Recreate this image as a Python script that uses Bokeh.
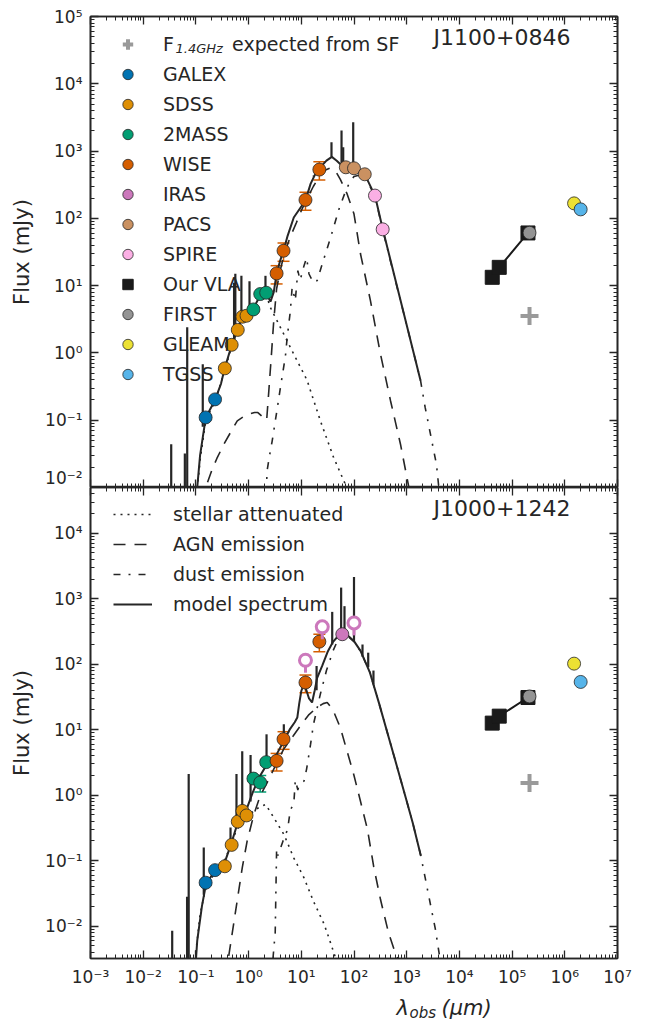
import numpy as np
from bokeh.plotting import figure
from bokeh.layouts import column
from bokeh.models import (ColumnDataSource, LogAxis, FixedTicker, CustomJSTickFormatter,
                          CustomLabelingPolicy, Label, Legend, LegendItem, Whisker, TeeHead,
                          Range1d)
from bokeh.embed import file_html
from bokeh.resources import INLINE

FONT = "DejaVu Sans"
INK = "#262626"

# seaborn colorblind palette per survey
C_GALEX = "#0173B2"
C_SDSS = "#DE8F05"
C_2MASS = "#029E73"
C_WISE = "#D55E00"
C_IRAS = "#CC78BC"
C_PACS = "#CA9161"
C_SPIRE = "#FBAFE4"
C_VLA = "#1a1a1a"
C_FIRST = "#949494"
C_GLEAM = "#ECE133"
C_TGSS = "#56B4E9"
C_SF = "#9a9a9a"

# ================= Panel 1 : J1100+0846 =================
p1_galex_wl = [0.153, 0.231]
p1_galex_f = [0.11, 0.204]
p1_galex_err = [0.008, 0.012]
p1_sdss_wl = [0.354, 0.477, 0.623, 0.763, 0.913]
p1_sdss_f = [0.59, 1.32, 2.2, 3.45, 3.57]
p1_sdss_err = [0.04, 0.05, 0.08, 0.1, 0.2]
p1_2mass_wl = [1.235, 1.662, 2.159]
p1_2mass_f = [4.43, 7.5, 7.85]
p1_2mass_err = [0.3, 0.5, 0.6]
p1_wise_wl = [3.4, 4.6, 12.0, 22.0]
p1_wise_f = [15.2, 33.0, 188.0, 531.0]
p1_wise_err = [4.6, 10.0, 56.0, 160.0]
p1_pacs_wl = [70.0, 100.0, 160.0]
p1_pacs_f = [574.0, 555.0, 452.0]
p1_pacs_err = [20.0, 20.0, 20.0]
p1_spire_wl = [250.0, 350.0]
p1_spire_f = [218.0, 68.7]
p1_spire_err = [8.0, 8.0]
p1_vla_wl = [42000.0, 57000.0, 200000.0]
p1_vla_f = [13.3, 18.7, 60.7]
p1_first_wl = [214000.0]
p1_first_f = [61.0]
p1_gleam_wl = [1.5e6]
p1_gleam_f = [167.0]
p1_tgss_wl = [2.0e6]
p1_tgss_f = [136.0]
p1_sf_wl = [214000.0]
p1_sf_f = [3.54]

p1_tot_wl = [0.106, 0.12, 0.154, 0.231, 0.3, 0.354, 0.477, 0.62, 0.76, 0.91, 1.24, 1.66, 2.16,
             2.6, 3.0, 3.4, 4.0, 4.6, 5.5, 7.2, 9.7, 12, 15, 18, 23, 30, 38, 47, 60, 70, 100,
             160, 250, 350, 1830]
p1_tot_f = [0.01, 0.03, 0.11, 0.2, 0.35, 0.6, 1.3, 2.2, 3.4, 3.7, 4.6, 7.2, 7.7,
            5.8, 8.0, 15, 24, 33, 55, 103, 145, 185, 325, 440, 575, 720, 820, 720, 600, 570, 550,
            450, 218, 70, 0.39]
p1_st_wl = [0.1, 0.12, 0.154, 0.231, 0.354, 0.477, 0.62, 0.76, 0.91, 1.24, 1.66, 2.2, 2.6, 4.0,
            7.2, 12.9, 23, 41, 64, 75]
p1_st_f = [0.006, 0.025, 0.1, 0.19, 0.55, 1.25, 2.1, 3.2, 3.5, 4.3, 6.6, 7.0, 4.7, 2.4,
           0.96, 0.39, 0.098, 0.028, 0.0126, 0.0095]
p1_agn_wl = [0.13, 0.16, 0.2, 0.25, 0.34, 0.45, 0.61, 0.9, 1.3, 1.5, 1.9, 2.2, 2.4, 2.7, 3.0,
             3.4, 4.0, 4.6, 6.0, 8.0, 10, 13, 17, 22, 28, 35, 45, 55, 74, 100, 133, 205, 318,
             493, 762, 1100]
p1_agn_f = [0.006, 0.011, 0.018, 0.027, 0.044, 0.065, 0.098, 0.12, 0.13, 0.13, 0.11, 0.1, 0.25,
            0.9, 3.0, 9.0, 17, 27, 50, 85, 130, 200, 300, 420, 520, 560, 500, 380, 231, 116,
            29.5, 6.0, 0.96, 0.195, 0.044, 0.01]
p1_dust_wl = [2.15, 2.25, 2.5, 2.8, 3.5, 4.0, 5.0, 5.4, 6.2, 6.7, 7.7, 8.6, 9.5, 11.3, 12.6, 14,
              17, 20, 25, 36, 52, 70, 83, 100, 130, 160, 250, 350, 500, 1000, 1830, 2240,
              3670, 4070]
p1_dust_f = [0.008, 0.018, 0.03, 0.049, 0.15, 0.3, 0.9, 1.7, 4.2, 9.4, 6.0, 16.7, 12, 20, 26,
             14.9, 11, 11.9, 21, 52, 138, 260, 344, 420, 440, 430, 212, 68, 22, 2.6, 0.39,
             0.155, 0.022, 0.01]
p1_line_wl = [0.034, 0.0617, 0.0684, 0.135, 0.53, 0.56, 0.73, 1.04, 2.09, 17.2, 37.4, 58, 62.4, 96.6]
p1_line_top = [0.044, 0.032, 2.4, 0.68, 11.0, 15.0, 14.0, 11.6, 14.0, 433, 1350, 2020, 1140, 2680]
p1_line_base = [0.001, 0.001, 0.001, 0.08, 1.5, 1.8, 3.3, 4.0, 7.6, 420, 820, 610, 600, 550]

# ================= Panel 2 : J1000+1242 =================
p2_galex_wl = [0.153, 0.231]
p2_galex_f = [0.046, 0.0716]
p2_galex_err = [0.004, 0.005]
p2_sdss_wl = [0.354, 0.477, 0.623, 0.763, 0.913]
p2_sdss_f = [0.082, 0.174, 0.395, 0.575, 0.49]
p2_sdss_err = [0.008, 0.01, 0.02, 0.03, 0.03]
p2_2mass_wl = [1.235, 1.662, 2.159]
p2_2mass_f = [1.79, 1.56, 3.19]
p2_2mass_err = [0.15, 0.44, 0.3]
p2_wise_wl = [3.4, 4.6, 12.0, 22.0]
p2_wise_f = [3.34, 7.16, 52.5, 221.0]
p2_wise_err = [1.0, 2.15, 15.8, 66.0]
p2_iras_wl = [60.0]
p2_iras_f = [287.0]
p2_irasul_wl = [12.0, 25.0, 100.0]
p2_irasul_f = [115.0, 372.0, 427.0]
p2_vla_wl = [42000.0, 57000.0, 200000.0]
p2_vla_f = [12.6, 16.1, 31.0]
p2_first_wl = [214000.0]
p2_first_f = [32.2]
p2_gleam_wl = [1.5e6]
p2_gleam_f = [102.0]
p2_tgss_wl = [2.0e6]
p2_tgss_f = [53.6]
p2_sf_wl = [214000.0]
p2_sf_f = [1.53]

p2_tot_wl = [0.1, 0.106, 0.13, 0.154, 0.2, 0.231, 0.3, 0.354, 0.477, 0.62, 0.76, 0.91, 1.2, 1.6,
             2.2, 2.7, 3.4, 4.6, 6.0, 7.5, 8.4, 9.1, 10, 11, 12.5, 14, 16, 18, 20, 25, 32, 40,
             50, 60, 80, 100, 133, 200, 300, 430, 600, 900, 1300, 1850]
p2_tot_f = [0.003, 0.006, 0.02, 0.042, 0.06, 0.07, 0.08, 0.095, 0.19, 0.38, 0.52, 0.6, 1.1, 1.9,
            2.9, 3.5, 4.2, 6.6, 10, 13, 15.3, 24.5, 39, 48, 40, 30, 26, 40, 62, 95, 158, 220,
            270, 290, 265, 225, 160, 75, 25, 9, 3.5, 1.1, 0.38, 0.12]
p2_st_wl = [0.1, 0.12, 0.15, 0.2, 0.3, 0.4, 0.5, 0.65, 0.8, 1.0, 1.3, 1.6, 2.1, 2.6, 3.3, 4.7,
            7.2, 11.2, 17, 26.7, 33, 45]
p2_st_f = [0.004, 0.015, 0.035, 0.055, 0.08, 0.13, 0.22, 0.33, 0.42, 0.5, 0.58, 0.66, 0.72,
           0.55, 0.4, 0.25, 0.11, 0.055, 0.024, 0.011, 0.0068, 0.0032]
p2_agn_wl = [0.42, 0.61, 0.76, 0.94, 1.26, 1.68, 2.2, 3.0, 4.6, 7.0, 10, 14, 20, 26, 31, 40,
             55, 75, 100, 132, 180, 237, 320, 450, 600, 700]
p2_agn_f = [0.0035, 0.025, 0.079, 0.2, 0.51, 1.0, 1.5, 2.5, 5.0, 8.0, 12, 17, 22, 25, 26, 20,
            10.7, 4.5, 2.0, 0.82, 0.3, 0.08, 0.025, 0.008, 0.004, 0.003]
p2_dust_wl = [2.9, 3.2, 3.4, 3.6, 4.5, 5.5, 6.2, 7.2, 7.7, 8.6, 9.0, 11.3, 12.6, 15, 17, 23, 30,
              40, 50, 60, 80, 100, 133, 200, 300, 430, 600, 900, 1300, 1850, 2500, 3500, 4200]
p2_dust_f = [0.0032, 0.008, 0.15, 0.12, 0.2, 0.3, 0.6, 0.73, 1.7, 1.2, 1.4, 1.65, 2.5, 6.0, 12,
             35, 80, 160, 240, 275, 260, 222, 158, 75, 25, 9, 3.5, 1.1, 0.38, 0.12, 0.035,
             0.009, 0.0035]
p2_line_wl = [0.0355, 0.068, 0.073, 0.141, 0.454, 0.589, 0.757, 1.09, 2.19, 4.66, 19.5, 38.6,
              57, 66, 100, 145, 186, 234]
p2_line_top = [0.0085, 0.028, 2.1, 0.158, 0.32, 2.1, 4.7, 4.1, 8.5, 12.1, 94, 630, 1480, 770,
               2150, 200, 150, 80]
p2_line_base = [0.001, 0.001, 0.001, 0.03, 0.17, 0.35, 0.52, 0.8, 2.9, 6.6, 40, 200, 285, 285,
                225, 130, 90, 50]

X_MAJOR = [10.0 ** k for k in range(-3, 8)]
X_MINOR = [m * 10.0 ** k for k in range(-3, 7) for m in range(2, 10)]
Y_MAJOR = [10.0 ** k for k in range(-3, 6)]
Y_MINOR = [m * 10.0 ** k for k in range(-3, 5) for m in range(2, 10)]

SUP_JS = r"""
const sup = {"-": "\u207b", "0": "\u2070", "1": "\u00b9", "2": "\u00b2", "3": "\u00b3",
             "4": "\u2074", "5": "\u2075", "6": "\u2076", "7": "\u2077", "8": "\u2078", "9": "\u2079"};
const e = Math.round(Math.log10(tick));
return "10" + String(e).split("").map(c => sup[c]).join("");
"""

NO_LABELS = "return new Set()"

FW, FH = 527, 471


def style_axis(ax, major, minor, labels):
    ax.ticker = FixedTicker(ticks=major, minor_ticks=minor)
    ax.formatter = CustomJSTickFormatter(code=SUP_JS)
    ax.major_tick_in = 8
    ax.major_tick_out = 0
    ax.minor_tick_in = 4
    ax.minor_tick_out = 0
    ax.major_tick_line_color = INK
    ax.minor_tick_line_color = INK
    ax.major_tick_line_width = 1.3
    ax.minor_tick_line_width = 1
    ax.axis_line_color = INK
    ax.axis_line_width = 1.6
    if labels:
        ax.major_label_text_font = FONT
        ax.major_label_text_font_size = "17px"
        ax.major_label_text_color = INK
        ax.major_label_standoff = 8
    else:
        ax.major_label_policy = CustomLabelingPolicy(code=NO_LABELS)
        ax.major_label_text_font_size = "0px"
        ax.major_label_standoff = 0


def make_fig(ylo, yhi, bottom_labels, top_border, bottom_border):
    p = figure(x_axis_type="log", y_axis_type="log",
               x_range=Range1d(1e-3, 1e7), y_range=Range1d(ylo, yhi),
               frame_width=FW, frame_height=FH, output_backend="svg", toolbar_location=None,
               min_border_left=90, min_border_right=20, min_border_top=top_border,
               min_border_bottom=bottom_border)
    p.grid.visible = False
    p.outline_line_color = INK
    p.outline_line_width = 1.6
    p.background_fill_color = "white"
    style_axis(p.xaxis[0], X_MAJOR, X_MINOR, bottom_labels)
    style_axis(p.yaxis[0], Y_MAJOR, Y_MINOR, True)
    p.yaxis[0].axis_label = "Flux (mJy)"
    p.yaxis[0].axis_label_text_font = FONT
    p.yaxis[0].axis_label_text_font_size = "21px"
    p.yaxis[0].axis_label_text_font_style = "normal"
    p.yaxis[0].axis_label_text_color = INK
    p.yaxis[0].axis_label_standoff = 8
    top = LogAxis()
    style_axis(top, X_MAJOR, X_MINOR, False)
    p.add_layout(top, "above")
    right = LogAxis()
    style_axis(right, Y_MAJOR, Y_MINOR, False)
    p.add_layout(right, "right")
    return p


def add_models(p, tot_wl, tot_f, st_wl, st_f, agn_wl, agn_f, dust_wl, dust_f,
               line_wl, line_top, line_base):
    r_st = p.line(st_wl, st_f, line_color=INK, line_width=1.6, line_dash="2 5")
    r_agn = p.line(agn_wl, agn_f, line_color=INK, line_width=1.6, line_dash="12 9")
    r_dust = p.line(dust_wl, dust_f, line_color=INK, line_width=1.6, line_dash="7 8 2 8")
    r_tot = p.line(tot_wl, tot_f, line_color=INK, line_width=2)
    p.segment(x0=line_wl, y0=line_base, x1=line_wl, y1=line_top, line_color=INK, line_width=2.2)
    return r_st, r_agn, r_dust, r_tot


def add_points(p, wl, f, err, color, marker="circle", size=13):
    src = ColumnDataSource(dict(x=wl, y=f))
    if err is not None:
        src.data["lo"] = [a - b for a, b in zip(f, err)]
        src.data["hi"] = [a + b for a, b in zip(f, err)]
        w = Whisker(source=src, base="x", upper="hi", lower="lo", dimension="height",
                    line_color=color, line_width=1.5,
                    upper_head=TeeHead(size=12, line_color=color, line_width=1.5),
                    lower_head=TeeHead(size=12, line_color=color, line_width=1.5))
        p.add_layout(w)
    return p.scatter("x", "y", source=src, marker=marker, size=size, fill_color=color,
                     line_color=INK, line_width=0.8)


def add_radio(p, vla_wl, vla_f, first_wl, first_f, gleam_wl, gleam_f, tgss_wl, tgss_f, sf_wl, sf_f):
    p.line(vla_wl, vla_f, line_color=C_VLA, line_width=2)
    r_vla = p.scatter(vla_wl, vla_f, marker="square", size=14, fill_color=C_VLA, line_color=C_VLA)
    r_first = add_points(p, first_wl, first_f, None, C_FIRST)
    r_gleam = add_points(p, gleam_wl, gleam_f, None, C_GLEAM)
    r_tgss = add_points(p, tgss_wl, tgss_f, None, C_TGSS)
    r_sf = p.scatter(sf_wl, sf_f, marker="cross", size=18, line_color=C_SF, line_width=4)
    return r_vla, r_first, r_gleam, r_tgss, r_sf


def add_text(p, x, y, text, size, style="normal"):
    p.add_layout(Label(x=x, y=y, x_units="screen", y_units="screen", text=text,
                       text_font=FONT, text_font_size=size, text_font_style=style,
                       text_color=INK, text_baseline="middle", text_align="left"))


# ---------------- top panel ----------------
p1 = make_fig(1e-2, 1e5, False, 16, 0)
add_models(p1, p1_tot_wl, p1_tot_f, p1_st_wl, p1_st_f, p1_agn_wl, p1_agn_f,
           p1_dust_wl, p1_dust_f, p1_line_wl, p1_line_top, p1_line_base)
r_galex = add_points(p1, p1_galex_wl, p1_galex_f, p1_galex_err, C_GALEX)
r_sdss = add_points(p1, p1_sdss_wl, p1_sdss_f, p1_sdss_err, C_SDSS)
r_2mass = add_points(p1, p1_2mass_wl, p1_2mass_f, p1_2mass_err, C_2MASS)
r_wise = add_points(p1, p1_wise_wl, p1_wise_f, p1_wise_err, C_WISE)
# IRAS has no detection in this panel: legend-only renderer (nothing drawn in the frame)
r_iras = p1.scatter(x=np.array([np.nan]), y=np.array([np.nan]), marker="circle", size=13,
                    fill_color=C_IRAS, line_color=INK, line_width=0.8)
r_pacs = add_points(p1, p1_pacs_wl, p1_pacs_f, p1_pacs_err, C_PACS)
r_spire = add_points(p1, p1_spire_wl, p1_spire_f, p1_spire_err, C_SPIRE)
r_vla, r_first, r_gleam, r_tgss, r_sf = add_radio(
    p1, p1_vla_wl, p1_vla_f, p1_first_wl, p1_first_f, p1_gleam_wl, p1_gleam_f,
    p1_tgss_wl, p1_tgss_f, p1_sf_wl, p1_sf_f)
add_text(p1, 343, FH - 20.5, "J1100+0846", "22px")

NB = "\u00a0"
leg1 = Legend(items=[
    LegendItem(label="F" + NB * 9 + "\u2009expected from SF", renderers=[r_sf]),
    LegendItem(label="GALEX", renderers=[r_galex]),
    LegendItem(label="SDSS", renderers=[r_sdss]),
    LegendItem(label="2MASS", renderers=[r_2mass]),
    LegendItem(label="WISE", renderers=[r_wise]),
    LegendItem(label="IRAS", renderers=[r_iras]),
    LegendItem(label="PACS", renderers=[r_pacs]),
    LegendItem(label="SPIRE", renderers=[r_spire]),
    LegendItem(label="Our VLA", renderers=[r_vla]),
    LegendItem(label="FIRST", renderers=[r_first]),
    LegendItem(label="GLEAM", renderers=[r_gleam]),
    LegendItem(label="TGSS", renderers=[r_tgss]),
], location=(22, 100), glyph_width=31, glyph_height=26, label_height=26, spacing=4,
    padding=0, margin=0, label_standoff=20, border_line_alpha=0, background_fill_alpha=0,
    label_text_font=FONT, label_text_font_size="19px", label_text_color=INK)
p1.add_layout(leg1)
add_text(p1, 85, FH - 32, "1.4GHz", "13px", "italic")

# ---------------- bottom panel ----------------
p2 = make_fig(3.2e-3, 5e4, True, 0, 30)
r2_st, r2_agn, r2_dust, r2_tot = add_models(
    p2, p2_tot_wl, p2_tot_f, p2_st_wl, p2_st_f, p2_agn_wl, p2_agn_f,
    p2_dust_wl, p2_dust_f, p2_line_wl, p2_line_top, p2_line_base)
add_points(p2, p2_galex_wl, p2_galex_f, p2_galex_err, C_GALEX)
add_points(p2, p2_sdss_wl, p2_sdss_f, p2_sdss_err, C_SDSS)
add_points(p2, p2_2mass_wl, p2_2mass_f, p2_2mass_err, C_2MASS)
add_points(p2, p2_wise_wl, p2_wise_f, p2_wise_err, C_WISE)
ul_src = ColumnDataSource(dict(x=p2_irasul_wl, y=p2_irasul_f,
                               y0=[v / 1.55 for v in p2_irasul_f]))
p2.segment(x0="x", y0="y", x1="x", y1="y0", source=ul_src, line_color=C_IRAS, line_width=3)
p2.scatter("x", "y", source=ul_src, marker="circle", size=12, fill_color="white",
           line_color=C_IRAS, line_width=3)
add_points(p2, p2_iras_wl, p2_iras_f, None, C_IRAS)
add_radio(p2, p2_vla_wl, p2_vla_f, p2_first_wl, p2_first_f, p2_gleam_wl, p2_gleam_f,
          p2_tgss_wl, p2_tgss_f, p2_sf_wl, p2_sf_f)
add_text(p2, 343, FH - 20.5, "J1000+1242", "22px")

leg2 = Legend(items=[
    LegendItem(label="stellar attenuated", renderers=[r2_st]),
    LegendItem(label="AGN emission", renderers=[r2_agn]),
    LegendItem(label="dust emission", renderers=[r2_dust]),
    LegendItem(label="model spectrum", renderers=[r2_tot]),
], location=(23, 341), glyph_width=39, glyph_height=26, label_height=20, spacing=4,
    padding=0, margin=0, label_standoff=21, border_line_alpha=0, background_fill_alpha=0,
    label_text_font=FONT, label_text_font_size="19px", label_text_color=INK)
p2.add_layout(leg2)

# ---------------- x-axis title strip: lambda_obs (mum) ----------------
XL_H = 33
p3 = figure(width=90 + FW + 20, height=XL_H, x_range=Range1d(0, 90 + FW + 20),
            y_range=Range1d(0, XL_H), output_backend="svg", toolbar_location=None,
            min_border=0, x_axis_location=None, y_axis_location=None)
p3.outline_line_color = None
p3.grid.visible = False
add_text(p3, 306, 15, "λ", "21px", "italic")
add_text(p3, 319, 10, "obs", "15px", "italic")
add_text(p3, 351, 15, "(μm)", "21px", "italic")

layout = column(p1, p2, p3, spacing=0)
open("out.html", "w").write(file_html(layout, INLINE))
